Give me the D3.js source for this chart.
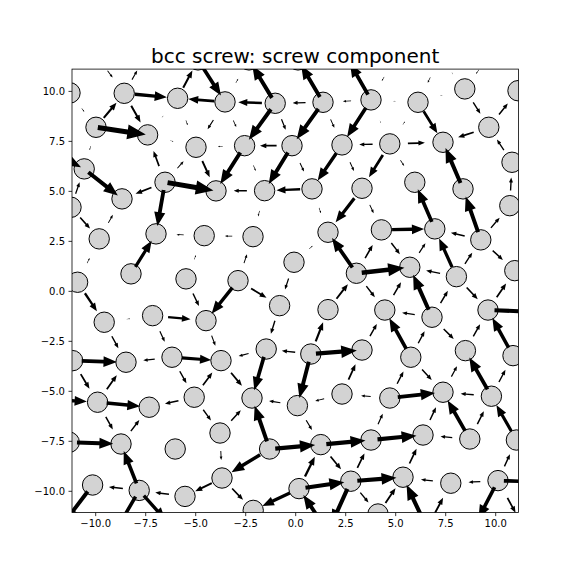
<!DOCTYPE html>
<html><head><meta charset="utf-8">
<script src="https://cdn.jsdelivr.net/npm/d3@7"></script>
<style>body{margin:0;background:#fff}</style>
</head><body>
<svg id="c" width="576" height="576"></svg>
<script>
// atom positions (data units); entries 97-116 lie outside the view (clipped)
const atomX = [-11.26,-8.55,-5.88,-3.51,-1.00,1.39,3.79,6.14,8.48,11.14,
 -9.96,-7.38,-4.96,-2.53,-0.16,2.34,4.73,7.39,9.68,
 -10.55,-6.51,-8.66,-3.96,-1.53,0.84,3.34,5.98,8.39,10.84,-11.21,10.73,
 -9.80,-6.96,-4.55,-2.11,-0.06,1.64,4.31,6.98,9.28,
 -10.88,-8.21,-5.46,-2.86,3.06,5.73,8.06,10.98,
 -9.55,-7.13,-4.46,-0.78,1.64,4.48,6.84,9.64,
 -11.13,-8.46,-6.16,-3.71,-1.45,0.78,3.34,5.78,8.51,10.89,
 -9.88,-7.30,-5.05,-2.16,0.11,2.34,4.73,7.39,9.81,
 -11.30,-8.71,-6.00,-3.76,-1.28,1.28,3.79,6.39,8.73,11.06,
 -10.13,-7.80,-5.51,-3.66,-2.10,0.19,2.78,5.39,7.78,10.14,4.14,
 -9.96,-7.51,-4.86,-2.31,0.14,2.59,4.99,7.24,9.74,
 -12.66,-12.56,12.24,12.49,-11.76,-9.01,-6.26,1.64,6.59,8.99,11.49];
const atomY = [9.90,9.88,9.63,9.45,9.38,9.43,9.55,9.43,10.10,10.01,
 8.18,7.80,7.18,7.26,7.26,7.30,7.35,7.43,8.18,
 6.10,5.43,4.60,5.00,5.01,5.10,5.13,5.43,5.10,6.43,4.18,4.26,
 2.60,2.85,2.76,2.71,1.43,2.93,3.05,3.10,2.55,
 0.43,0.85,0.60,0.51,0.88,1.18,0.71,1.01,
 -1.57,-1.24,-1.49,-0.74,-0.94,-0.96,-1.32,-0.96,
 -3.49,-3.57,-3.32,-3.49,-2.91,-3.16,-2.96,-3.32,-2.99,-3.24,
 -5.57,-5.82,-5.32,-5.36,-5.74,-5.16,-5.36,-5.07,-5.27,
 -7.57,-7.66,-7.91,-7.11,-7.91,-7.69,-7.46,-7.21,-7.41,-7.46,
 -9.71,-9.98,-10.28,-9.36,-10.98,-9.89,-9.52,-9.32,-9.62,-9.49,-11.16,
 11.80,11.70,11.55,11.55,11.55,11.65,11.65,11.65,11.80,
 7.20,-5.41,-1.06,-9.56,-11.86,-12.06,-11.71,-12.06,-11.86,-11.71,-11.96];

// differential displacement arrows: from atom, to atom (1-based ids), fraction of spacing
const pairFrom = [2,4,99,3,2,97,1,11,2,11,3,4,12,14,21,21,13,20,21,21,21,106,11,32,30,30,12,
 4,5,6,7,5,6,7,5,6,7,5,4,6,15,17,14,15,16,15,16,14,24,25,26,26,24,25,
 103,104,9,105,7,8,9,19,7,17,8,17,19,17,17,28,39,40,29,31,
 34,41,42,43,41,49,50,43,44,50,49,51,57,59,59,
 35,36,45,45,45,45,44,36,44,53,52,62,61,62,62,61,63,
 40,38,40,38,46,47,47,40,47,47,56,56,54,55,55,55,55,65,66,64,64,75,74,
 57,67,59,69,107,67,69,67,77,69,76,87,89,87,88,86,87,87,
 60,62,72,71,72,73,79,80,71,80,81,79,80,91,81,92,91,89,91,113,92,92,
 73,64,75,73,75,82,83,84,84,85,95,82,84,93,96,92,94,95,95,114,114,95,95];
const pairTo = [3,3,4,99,98,2,11,2,12,12,13,13,13,13,12,13,23,22,22,23,33,20,20,22,32,20,3,
 100,100,101,102,4,5,6,14,15,16,15,14,16,14,16,23,24,25,25,26,24,23,24,37,38,35,37,
 7,8,104,9,8,9,19,10,17,8,18,18,18,26,27,18,27,28,19,29,
 33,32,33,34,49,50,51,51,51,59,58,60,58,58,60,
 34,37,37,38,46,54,35,52,52,45,61,53,60,61,63,70,54,
 31,39,39,46,39,39,40,48,46,56,48,108,46,46,47,54,65,56,56,54,55,65,65,
 67,58,69,60,67,68,68,77,68,79,77,77,88,86,87,110,111,112,
 70,71,63,70,71,72,70,70,81,81,82,89,89,81,92,82,92,90,90,91,113,96,
 64,74,66,74,74,73,74,74,75,75,85,83,83,83,93,93,93,94,109,93,94,115,116];
const pairFrac = [0.6,0.55,0.7,0.45,0.25,0.18,0.1,0.45,0.4,0.93,0.1,0.2,0.07,0.1,0.32,0.2,0.37,0.78,0.37,0.9,0.7,0.85,0.1,0.2,0.35,0.3,0.05,
 0.1,0.75,0.75,0.75,0.47,0.27,0.17,0.72,0.7,0.65,0.25,0.15,0.2,0.35,0.28,0.7,0.7,0.62,0.2,0.2,0.12,0.27,0.5,0.55,0.2,0.12,0.12,
 0.1,0.12,0.05,0.12,0.05,0.05,0.3,0.3,0.05,0.08,0.55,0.32,0.34,0.5,0.15,0.75,0.7,0.7,0.3,0.3,
 0.15,0.12,0.65,0.1,0.45,0.07,0.42,0.3,0.65,0.25,0.3,0.25,0.66,0.25,0.6,
 0.15,0.1,0.72,0.3,0.8,0.3,0.2,0.25,0.37,0.4,0.3,0.43,0.22,0.3,0.8,0.68,0.3,
 0.3,0.6,0.3,0.3,0.25,0.6,0.3,0.3,0.3,0.35,0.35,0.75,0.3,0.7,0.3,0.27,0.3,0.3,0.65,0.65,0.3,0.7,0.25,
 0.35,0.35,0.3,0.35,0.6,0.65,0.3,0.3,0.3,0.3,0.7,0.7,0.45,0.3,0.3,0.7,0.7,0.7,
 0.35,0.7,0.35,0.25,0.2,0.2,0.3,0.7,0.25,0.78,0.78,0.2,0.6,0.45,0.35,0.35,0.75,0.35,0.6,0.7,0.7,0.3,
 0.3,0.3,0.3,0.7,0.27,0.25,0.3,0.65,0.3,0.6,0.3,0.75,0.25,0.35,0.4,0.75,0.25,0.25,0.75,0.7,0.35,0.7,0.3];

const xTicks = [-10,-7.5,-5,-2.5,0,2.5,5,7.5,10];
const yTicks = [-10,-7.5,-5,-2.5,0,2.5,5,7.5,10];
const titleText = "bcc screw: screw component";

const L = 72, R = 518.4, T = 69.1, B = 512.6;
const x = d3.scaleLinear().domain([-11.16, 11.16]).range([L, R]);
const y = d3.scaleLinear().domain([-11.09, 11.09]).range([B, T]);
const svg = d3.select('#c');
svg.append('rect').attr('width',576).attr('height',576).attr('fill','#fff');
svg.append('defs').append('clipPath').attr('id','clip')
  .append('rect').attr('x',L).attr('y',T).attr('width',R-L).attr('height',B-T);
const g = svg.append('g').attr('clip-path','url(#clip)');

g.selectAll('circle').data(d3.range(atomX.length)).join('circle')
  .attr('cx', i => x(atomX[i])).attr('cy', i => y(atomY[i])).attr('r', 10.2)
  .attr('fill', '#d3d3d3').attr('stroke', '#000').attr('stroke-width', 1);

function arrowPath(i){
  const a = pairFrom[i]-1, b = pairTo[i]-1, m = pairFrac[i];
  const x0 = x(atomX[a]), y0 = y(atomY[a]), x1 = x(atomX[b]), y1 = y(atomY[b]);
  const dx = x1-x0, dy = y1-y0, d = Math.hypot(dx,dy);
  const ux = dx/d, uy = dy/d, nx = -uy, ny = ux;
  const len = m*d, mx = (x0+x1)/2, my = (y0+y1)/2;
  const tx = mx-ux*len/2, ty = my-uy*len/2, hx = mx+ux*len/2, hy = my+uy*len/2;
  const w = 0.105*len, hw = 2.9*w, hl = Math.min(1.25*hw, len);
  const bx = hx-ux*hl, by = hy-uy*hl;
  const p = [[tx+nx*w/2, ty+ny*w/2],[bx+nx*w/2, by+ny*w/2],[bx+nx*hw/2, by+ny*hw/2],[hx,hy],
             [bx-nx*hw/2, by-ny*hw/2],[bx-nx*w/2, by-ny*w/2],[tx-nx*w/2, ty-ny*w/2]];
  return 'M' + p.map(q => q[0].toFixed(2)+','+q[1].toFixed(2)).join('L') + 'Z';
}
g.selectAll('path.arr').data(d3.range(pairFrom.length)).join('path')
  .attr('class','arr').attr('d', arrowPath).attr('fill','#000');

const fmt = d3.format('.1f');
const xa = svg.append('g').attr('transform', `translate(0,${B})`)
  .call(d3.axisBottom(x).tickValues(xTicks).tickFormat(fmt).tickSize(3.5).tickPadding(3.5));
const ya = svg.append('g').attr('transform', `translate(${L},0)`)
  .call(d3.axisLeft(y).tickValues(yTicks).tickFormat(fmt).tickSize(3.5).tickPadding(3.5));
[xa, ya].forEach(a => {
  a.select('.domain').remove();
  a.selectAll('text').attr('font-family','DejaVu Sans').attr('font-size','10px').attr('fill','#000');
  a.selectAll('line').attr('stroke','#000').attr('stroke-width',0.8);
});
svg.append('rect').attr('x',L).attr('y',T).attr('width',R-L).attr('height',B-T)
  .attr('fill','none').attr('stroke','#000').attr('stroke-width',0.8);
svg.append('text').attr('x',(L+R)/2).attr('y',63).attr('text-anchor','middle')
  .attr('font-family','DejaVu Sans').attr('font-size','20px').attr('fill','#000').text(titleText);
</script>
</body></html>
